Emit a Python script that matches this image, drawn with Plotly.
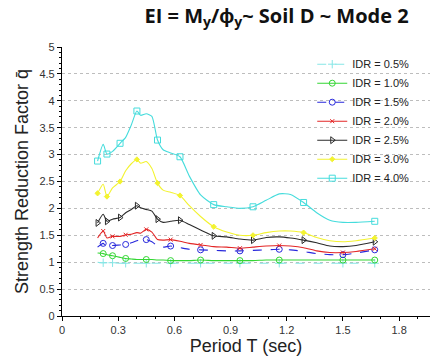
import plotly.graph_objects as go

# Period grid (sec)
T = [0.19, 0.22, 0.24, 0.27, 0.31, 0.34, 0.37, 0.40, 0.42, 0.45,
     0.48, 0.51, 0.54, 0.58, 0.63, 0.68, 0.74, 0.81, 0.88, 0.95,
     1.02, 1.09, 1.16, 1.22, 1.29, 1.36, 1.43, 1.50, 1.57, 1.67]

q_05 = [1.00, 0.99, 0.99, 0.99, 0.98, 0.98, 0.98, 0.98, 0.98, 0.98,
        0.98, 0.98, 0.98, 0.98, 0.98, 0.98, 0.98, 0.98, 0.98, 0.98,
        0.98, 0.98, 0.98, 0.98, 0.98, 0.98, 0.98, 0.98, 0.98, 0.98]
q_10 = [1.17, 1.16, 1.14, 1.12, 1.09, 1.07, 1.06, 1.05, 1.05, 1.05,
        1.05, 1.04, 1.04, 1.03, 1.03, 1.03, 1.04, 1.03, 1.03, 1.03,
        1.03, 1.04, 1.04, 1.04, 1.04, 1.04, 1.04, 1.04, 1.04, 1.04]
q_15 = [1.28, 1.35, 1.27, 1.31, 1.32, 1.33, 1.36, 1.40, 1.42, 1.42,
        1.38, 1.30, 1.28, 1.30, 1.27, 1.24, 1.23, 1.22, 1.21, 1.21,
        1.22, 1.23, 1.24, 1.23, 1.20, 1.16, 1.14, 1.14, 1.17, 1.23]
q_20 = [1.45, 1.58, 1.45, 1.48, 1.48, 1.51, 1.52, 1.55, 1.54, 1.61,
        1.56, 1.42, 1.41, 1.42, 1.39, 1.35, 1.32, 1.29, 1.28, 1.26,
        1.28, 1.30, 1.31, 1.30, 1.27, 1.21, 1.18, 1.18, 1.20, 1.25]
q_25 = [1.73, 1.89, 1.76, 1.80, 1.83, 1.92, 1.98, 2.05, 2.01, 1.98,
        1.95, 1.80, 1.74, 1.76, 1.78, 1.70, 1.60, 1.49, 1.47, 1.43,
        1.41, 1.46, 1.47, 1.45, 1.41, 1.36, 1.30, 1.29, 1.31, 1.38]
q_30 = [2.28, 2.45, 2.22, 2.38, 2.50, 2.70, 2.83, 2.91, 2.84, 2.87,
        2.74, 2.47, 2.34, 2.30, 2.24, 2.05, 1.85, 1.66, 1.56, 1.50,
        1.50, 1.55, 1.58, 1.58, 1.55, 1.46, 1.40, 1.38, 1.40, 1.45]
q_40 = [2.88, 3.19, 3.01, 3.06, 3.21, 3.32, 3.55, 3.81, 3.73, 3.76,
        3.71, 3.27, 3.09, 3.03, 2.96, 2.60, 2.25, 2.07, 2.03, 2.00,
        2.03, 2.15, 2.27, 2.26, 2.11, 1.92, 1.78, 1.74, 1.74, 1.76]

names = ["IDR = 0.5%", "IDR = 1.0%", "IDR = 1.5%", "IDR = 2.0%",
         "IDR = 2.5%", "IDR = 3.0%", "IDR = 4.0%"]
series = [q_05, q_10, q_15, q_20, q_25, q_30, q_40]

marks_A = [0, 2, 4, 7, 11, 14, 17, 20, 24, 29]
marks_B = [1, 3, 5, 9, 13, 16, 19, 22, 27, 29]

styles = [
    dict(color="#86e6e6", dash="dash", symbol="cross-thin-open", size=6, marks=marks_B),
    dict(color="#33d633", dash="solid", symbol="circle-open", size=6, marks=marks_B),
    dict(color="#2828dc", dash="dash", symbol="circle-open", size=6, marks=marks_B),
    dict(color="#e32626", dash="solid", symbol="x-thin-open", size=4, marks=marks_B),
    dict(color="#2b2b2b", dash="solid", symbol="triangle-right-open", size=6, marks=marks_A),
    dict(color="#f3f330", dash="solid", symbol="diamond", size=4, marks=marks_A),
    dict(color="#45dcdc", dash="solid", symbol="square-open", size=6, marks=marks_A),
]

fig = go.Figure()
for name, vals, st in zip(names, series, styles):
    fig.add_trace(go.Scatter(
        x=T, y=vals, mode="lines", showlegend=False, legendgroup=name,
        line=dict(color=st["color"], width=1.1, dash=st["dash"], shape="spline", smoothing=0.6),
        hoverinfo="skip"))
    fig.add_trace(go.Scatter(
        x=[T[i] for i in st["marks"]], y=[vals[i] for i in st["marks"]],
        mode="markers", showlegend=False, legendgroup=name,
        marker=dict(symbol=st["symbol"], size=st["size"], color=st["color"],
                    line=dict(color=st["color"], width=1))))
    fig.add_trace(go.Scatter(
        x=[None], y=[None], mode="lines+markers", name=name, legendgroup=name,
        line=dict(color=st["color"], width=1.1, dash=st["dash"]),
        marker=dict(symbol=st["symbol"], size=st["size"], color=st["color"],
                    line=dict(color=st["color"], width=1))))

fig.update_layout(
    width=439, height=362,
    margin=dict(l=62, r=9, t=47, b=46, autoexpand=False),
    paper_bgcolor="white", plot_bgcolor="white",
    font=dict(family="Liberation Sans, Arial, sans-serif", color="#222"),
    title=dict(text="<b>EI = M<sub>y</sub>/ϕ<sub>y</sub>~ Soil D ~ Mode 2</b>",
               x=0.63, xref="container", xanchor="center",
               y=0.955, yref="container", yanchor="middle",
               font=dict(family="Open Sans, sans-serif", size=20, color="#111")),
    legend=dict(x=0.68, y=0.99, xanchor="left", yanchor="top",
                bgcolor="rgba(0,0,0,0)", font=dict(size=11, color="#222"),
                tracegroupgap=0),
    xaxis=dict(range=[0, 1.965], tick0=0, dtick=0.3, tickformat="~g",
               showline=True, linecolor="black", linewidth=1.2,
               ticks="outside", ticklen=4, tickcolor="black",
               minor=dict(dtick=0.1, ticks="outside", ticklen=2, tickcolor="black"),
               showgrid=False, zeroline=False, automargin=False,
               tickfont=dict(size=11, color="#333"),
               title=dict(text="Period T (sec)", font=dict(size=18, color="#222"), standoff=4)),
    yaxis=dict(range=[0, 5], tick0=0, dtick=0.5, tickformat="~g",
               showline=True, linecolor="black", linewidth=1.2,
               ticks="outside", ticklen=4, tickcolor="black",
               minor=dict(dtick=0.1, ticks="outside", ticklen=2, tickcolor="black"),
               showgrid=True, gridcolor="#bdbdbd", griddash="dot", gridwidth=1,
               zeroline=False, automargin=False,
               tickfont=dict(size=11, color="#333"),
               title=dict(text="Strength Reduction Factor q\u0304", font=dict(size=18, color="#222"), standoff=6)),
)

fig.write_html("out.html", config={"displayModeBar": False},
               post_script="document.body.style.margin='0';document.body.style.overflow='hidden';")
